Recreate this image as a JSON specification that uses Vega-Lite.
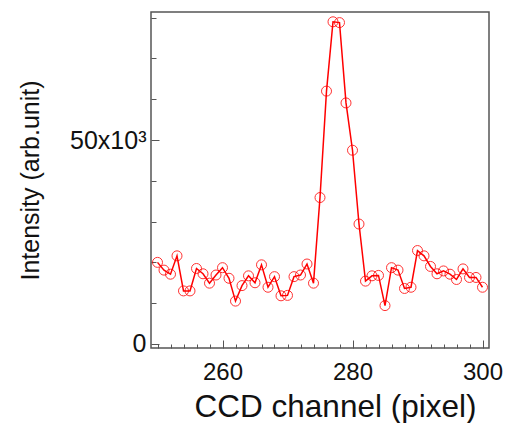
{
  "$schema": "https://vega.github.io/schema/vega-lite/v6.json",
  "width": 338,
  "height": 336,
  "autosize": "none",
  "padding": {"left": 151, "top": 12, "right": 17, "bottom": 75},
  "background": "white",
  "config": {
    "font": "Liberation Sans",
    "view": {"stroke": "#555555", "strokeWidth": 1.5},
    "axis": {"grid": false, "domain": false, "tickColor": "#555555", "labelColor": "#111111", "titleColor": "#111111", "titleFontWeight": "normal"}
  },
  "resolve": {"axis": {"x": "independent", "y": "independent"}},
  "data": {
    "values": [
      {"pixel": 250, "intensity": 20000},
      {"pixel": 251, "intensity": 18100},
      {"pixel": 252, "intensity": 17100},
      {"pixel": 253, "intensity": 21600},
      {"pixel": 254, "intensity": 13000},
      {"pixel": 255, "intensity": 13000},
      {"pixel": 256, "intensity": 18500},
      {"pixel": 257, "intensity": 17200},
      {"pixel": 258, "intensity": 14900},
      {"pixel": 259, "intensity": 16900},
      {"pixel": 260, "intensity": 18700},
      {"pixel": 261, "intensity": 16100},
      {"pixel": 262, "intensity": 10500},
      {"pixel": 263, "intensity": 14300},
      {"pixel": 264, "intensity": 16700},
      {"pixel": 265, "intensity": 15000},
      {"pixel": 266, "intensity": 19400},
      {"pixel": 267, "intensity": 13900},
      {"pixel": 268, "intensity": 16500},
      {"pixel": 269, "intensity": 11800},
      {"pixel": 270, "intensity": 11900},
      {"pixel": 271, "intensity": 16500},
      {"pixel": 272, "intensity": 16900},
      {"pixel": 273, "intensity": 19600},
      {"pixel": 274, "intensity": 14900},
      {"pixel": 275, "intensity": 35900},
      {"pixel": 276, "intensity": 62000},
      {"pixel": 277, "intensity": 79000},
      {"pixel": 278, "intensity": 78800},
      {"pixel": 279, "intensity": 59100},
      {"pixel": 280, "intensity": 47500},
      {"pixel": 281, "intensity": 29400},
      {"pixel": 282, "intensity": 15400},
      {"pixel": 283, "intensity": 16700},
      {"pixel": 284, "intensity": 16800},
      {"pixel": 285, "intensity": 9400},
      {"pixel": 286, "intensity": 18700},
      {"pixel": 287, "intensity": 18100},
      {"pixel": 288, "intensity": 13600},
      {"pixel": 289, "intensity": 13900},
      {"pixel": 290, "intensity": 22900},
      {"pixel": 291, "intensity": 21600},
      {"pixel": 292, "intensity": 19000},
      {"pixel": 293, "intensity": 17200},
      {"pixel": 294, "intensity": 17900},
      {"pixel": 295, "intensity": 17100},
      {"pixel": 296, "intensity": 15800},
      {"pixel": 297, "intensity": 18400},
      {"pixel": 298, "intensity": 16300},
      {"pixel": 299, "intensity": 16300},
      {"pixel": 300, "intensity": 13900}
    ]
  },
  "layer": [
    {
      "mark": {"type": "line", "color": "#ff0000", "strokeWidth": 1.5},
      "encoding": {
        "x": {
          "field": "pixel", "type": "quantitative",
          "scale": {"domain": [249, 301], "nice": false, "zero": false},
          "axis": {"orient": "bottom", "values": [250,252,254,256,258,262,264,266,268,270,272,274,276,278,282,284,286,288,290,292,294,296,298], "tickSize": -4, "tickWidth": 1, "labels": false, "title": null}
        },
        "y": {
          "field": "intensity", "type": "quantitative",
          "scale": {"domain": [-1000, 81400], "nice": false, "zero": false},
          "axis": {"orient": "left", "values": [10000, 20000, 30000, 40000, 60000, 70000, 80000], "tickSize": -5, "tickWidth": 1, "labels": false, "title": null}
        }
      }
    },
    {
      "mark": {"type": "point", "shape": "circle", "filled": false, "stroke": "#ff0000", "strokeWidth": 1, "size": 100, "opacity": 0.8},
      "encoding": {
        "x": {
          "field": "pixel", "type": "quantitative",
          "axis": {"orient": "bottom", "values": [260, 280, 300], "tickSize": -8, "tickWidth": 1, "labelFontSize": 24, "labelPadding": 20, "labelFlush": false,
                   "title": "CCD channel (pixel)", "titleFontSize": 31.5, "titleX": 184, "titleY": 68, "titleBaseline": "alphabetic", "titleAlign": "center"}
        },
        "y": {
          "field": "intensity", "type": "quantitative",
          "axis": {"orient": "left", "values": [0, 50000], "tickSize": -8, "tickWidth": 1, "labelFontSize": 25, "labelPadding": 13,
                   "labelExpr": "datum.value == 0 ? '0' : '50x10³'", "labelBaseline": "middle",
                   "title": "Intensity (arb.unit)", "titleFontSize": 25, "titleX": -121, "titleY": 168, "titleAngle": -90, "titleBaseline": "middle", "titleAlign": "center"}
        }
      }
    }
  ]
}
